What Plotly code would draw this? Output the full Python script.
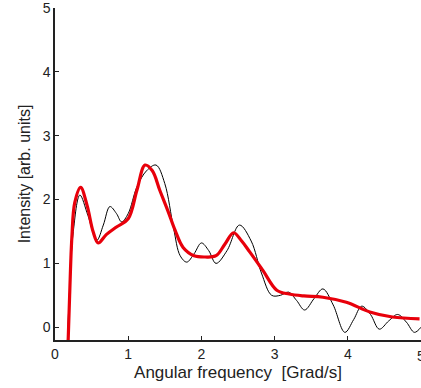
import plotly.graph_objects as go

# Black (measured) curve
black_x = [0.17, 0.20, 0.25, 0.34, 0.45, 0.57, 0.66, 0.75, 0.84, 0.91, 1.0, 1.12, 1.25, 1.38, 1.50, 1.62, 1.71, 1.80, 1.90, 2.0, 2.10, 2.20,
           2.35, 2.52, 2.68, 2.82, 2.96, 3.08, 3.19, 3.30, 3.41, 3.54, 3.66, 3.80, 3.96, 4.08, 4.19, 4.31, 4.43, 4.56, 4.68, 4.80, 4.91, 5.0]
black_y = [-0.2, 0.6, 1.5, 2.07, 1.75, 1.36, 1.6, 1.89, 1.78, 1.65, 1.78, 2.2, 2.45, 2.54, 2.25, 1.55, 1.12, 1.02, 1.15, 1.32, 1.2, 1.0,
           1.2, 1.6, 1.35, 0.85, 0.5, 0.5, 0.55, 0.42, 0.27, 0.45, 0.6, 0.35, -0.08, 0.12, 0.33, 0.2, -0.03, 0.1, 0.2, 0.08, -0.08, 0.0]

# Red (model) curve
red_x = [0.18, 0.20, 0.23, 0.27, 0.35, 0.44, 0.52, 0.59, 0.70, 0.84, 1.0, 1.12, 1.23, 1.33, 1.43, 1.55, 1.64, 1.75, 1.90, 2.05, 2.20,
         2.32, 2.44, 2.55, 2.66, 2.84, 3.03, 3.2, 3.4, 3.66, 3.98, 4.3, 4.61, 4.98]
red_y = [-0.2, 0.5, 1.4, 1.95, 2.19, 1.9, 1.5, 1.32, 1.45, 1.57, 1.7, 2.15, 2.54, 2.45, 2.15, 1.8, 1.52, 1.25, 1.12, 1.10, 1.12,
         1.30, 1.48, 1.35, 1.18, 0.89, 0.58, 0.52, 0.49, 0.47, 0.39, 0.24, 0.16, 0.13]

x_ticks = [0, 1, 2, 3, 4, 5]
y_ticks = [0, 1, 2, 3, 4, 5]

fig = go.Figure()
fig.add_trace(go.Scatter(x=black_x, y=black_y, mode="lines",
                         line=dict(color="black", width=1, shape="spline", smoothing=1.0),
                         showlegend=False))
fig.add_trace(go.Scatter(x=red_x, y=red_y, mode="lines",
                         line=dict(color="#e8000b", width=3.2, shape="spline", smoothing=1.0),
                         showlegend=False))

fam = "Liberation Sans, Arial, sans-serif"
tick_font = dict(family=fam, size=14, color="#222")
fig.update_layout(
    width=421, height=388,
    margin=dict(l=55, r=0, t=8, b=48),
    plot_bgcolor="white", paper_bgcolor="white",
    font=tick_font,
    xaxis=dict(range=[0, 5], tickvals=x_ticks, ticks="inside", ticklen=4, tickcolor="#222",
               showline=True, linecolor="#222", linewidth=1.5, showgrid=False, zeroline=False,
               title=dict(text="Angular frequency\u00a0 [Grad/s]", standoff=6,
                          font=dict(family=fam, size=17, color="#222")),
               tickfont=tick_font),
    yaxis=dict(range=[-0.2, 5], tickvals=y_ticks, ticks="inside", ticklen=4, tickcolor="#222",
               showline=True, linecolor="#222", linewidth=1.5, showgrid=False, zeroline=False,
               ticklabeloverflow="allow", automargin="left+width",
               title=dict(text="Intensity [arb. units]", standoff=8,
                          font=dict(family=fam, size=16, color="#222")),
               tickfont=tick_font),
)
# rightmost x tick label, partly cut off by the window edge as in the reference
fig.add_annotation(x=x_ticks[-1], y=0, xref="x", yref="paper", yanchor="top", yshift=-6,
                   text=str(x_ticks[-1]), showarrow=False, font=tick_font)

fig.write_html("out.html")
